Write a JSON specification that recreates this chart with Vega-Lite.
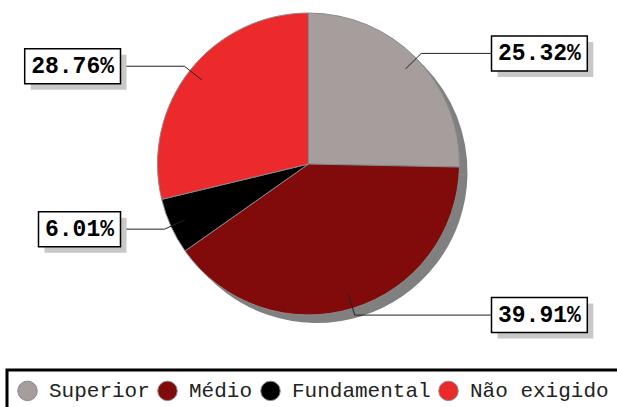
{
  "$schema": "https://vega.github.io/schema/vega-lite/v6.json",
  "width": 617,
  "height": 328,
  "padding": 0,
  "autosize": {"type": "pad"},
  "background": "white",
  "config": {"view": {"stroke": null}},
  "data": {
    "values": [
      {"category": "Superior", "pct": 25.32, "order": 1},
      {"category": "Médio", "pct": 39.91, "order": 2},
      {"category": "Fundamental", "pct": 6.01, "order": 3},
      {"category": "Não exigido", "pct": 28.76, "order": 4}
    ]
  },
  "transform": [
    {"window": [{"op": "sum", "field": "pct", "as": "cum"}], "sort": [{"field": "order"}], "frame": [null, 0]},
    {"calculate": "(datum.cum - datum.pct/2)/100*2*PI", "as": "mid"},
    {"calculate": "sin(datum.mid)", "as": "s"},
    {"calculate": "cos(datum.mid)", "as": "c"},
    {"calculate": "136*datum.s", "as": "ix"},
    {"calculate": "136*datum.c", "as": "iy"},
    {"calculate": "158*datum.s", "as": "ex"},
    {"calculate": "158*datum.c", "as": "ey"},
    {"calculate": "format(datum.pct, '.2f') + '%'", "as": "label"},
    {"calculate": "length(datum.label)*13.8 + 13", "as": "bw"},
    {"calculate": "datum.s > 0 ? 183 : -188", "as": "bin"},
    {"calculate": "datum.s > 0 ? datum.bin : datum.bin - datum.bw", "as": "bxl"},
    {"calculate": "datum.s > 0 ? datum.bin + datum.bw : datum.bin", "as": "bxr"},
    {"calculate": "(datum.bxl + datum.bxr)/2", "as": "bxc"},
    {"calculate": "datum.ey - 17.5", "as": "byb"},
    {"calculate": "datum.ey + 17.5", "as": "byt"},
    {"calculate": "datum.bxl + 6", "as": "sxl"},
    {"calculate": "datum.bxr + 6", "as": "sxr"},
    {"calculate": "datum.byb - 6", "as": "syb"},
    {"calculate": "datum.byt - 6", "as": "syt"}
  ],
  "layer": [
    {
      "mark": {"type": "arc", "radius": 151, "fill": "#808080", "xOffset": 8, "yOffset": 8},
      "encoding": {
        "theta": {"field": "pct", "type": "quantitative", "stack": true},
        "order": {"field": "order", "type": "quantitative"}
      }
    },
    {
      "mark": {"type": "arc", "radius": 151, "stroke": "#8a8a8a", "strokeWidth": 1},
      "encoding": {
        "theta": {"field": "pct", "type": "quantitative", "stack": true},
        "order": {"field": "order", "type": "quantitative"},
        "color": {
          "field": "category",
          "type": "nominal",
          "scale": {
            "domain": ["Superior", "Médio", "Fundamental", "Não exigido"],
            "range": ["#a69e9d", "#810a0b", "#000000", "#ed2a2b"]
          },
          "legend": {
            "title": null,
            "orient": "none",
            "direction": "horizontal",
            "legendX": 7,
            "legendY": 370,
            "padding": 10,
            "strokeColor": "#000000",
            "fillColor": "white",
            "symbolType": "circle",
            "symbolSize": 380,
            "symbolStrokeColor": "#888888",
            "symbolStrokeWidth": 1,
            "symbolOpacity": 1,
            "labelFont": "Liberation Mono",
            "labelFontSize": 21,
            "labelColor": "#222222",
            "labelOffset": 11,
            "columnPadding": 5,
            "labelLimit": 300,
            "encode": {"legend": {"update": {"strokeWidth": {"value": 3}}}}
          }
        }
      }
    },
    {
      "mark": {"type": "rule", "color": "#222222", "strokeWidth": 1},
      "encoding": {
        "x": {"field": "ix", "type": "quantitative", "scale": {"domain": [-308.5, 308.5], "nice": false, "zero": false}, "axis": null},
        "y": {"field": "iy", "type": "quantitative", "scale": {"domain": [-164, 164], "nice": false, "zero": false}, "axis": null},
        "x2": {"field": "ex"},
        "y2": {"field": "ey"}
      }
    },
    {
      "mark": {"type": "rule", "color": "#222222", "strokeWidth": 1},
      "encoding": {
        "x": {"field": "ex", "type": "quantitative"},
        "y": {"field": "ey", "type": "quantitative"},
        "x2": {"field": "bin"},
        "y2": {"field": "ey"}
      }
    },
    {
      "mark": {"type": "rect", "fill": "#c8c8c8"},
      "encoding": {
        "x": {"field": "sxl", "type": "quantitative"},
        "x2": {"field": "sxr"},
        "y": {"field": "syb", "type": "quantitative"},
        "y2": {"field": "syt"}
      }
    },
    {
      "mark": {"type": "rect", "fill": "white", "stroke": "#000000", "strokeWidth": 1.5},
      "encoding": {
        "x": {"field": "bxl", "type": "quantitative"},
        "x2": {"field": "bxr"},
        "y": {"field": "byb", "type": "quantitative"},
        "y2": {"field": "byt"}
      }
    },
    {
      "mark": {"type": "text", "font": "Liberation Mono", "fontWeight": "bold", "fontSize": 23, "color": "#000000", "align": "center", "baseline": "middle"},
      "encoding": {
        "x": {"field": "bxc", "type": "quantitative"},
        "y": {"field": "ey", "type": "quantitative"},
        "text": {"field": "label", "type": "nominal"}
      }
    }
  ]
}
